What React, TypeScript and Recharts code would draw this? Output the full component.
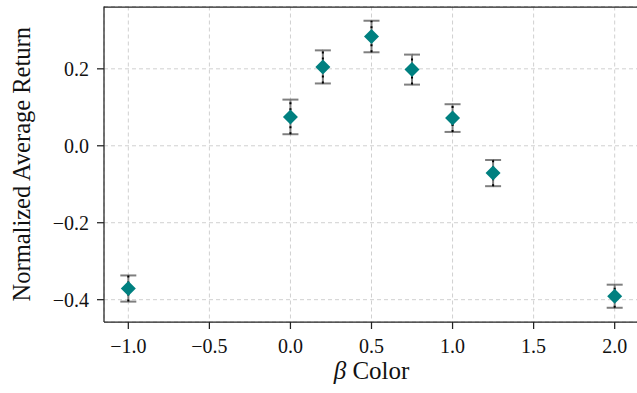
import React from "react";
import {
  ScatterChart,
  Scatter,
  XAxis,
  YAxis,
  CartesianGrid,
  ErrorBar,
  Label,
  ReferenceLine,
} from "recharts";

const betas = [-1.0, 0.0, 0.2, 0.5, 0.75, 1.0, 1.25, 2.0];
const means = [-0.371, 0.075, 0.205, 0.284, 0.198, 0.072, -0.071, -0.391];
const errors = [0.034, 0.045, 0.043, 0.041, 0.039, 0.036, 0.034, 0.03];

const xTicks = [-1.0, -0.5, 0.0, 0.5, 1.0, 1.5, 2.0];
const yTicks = [-0.4, -0.2, 0.0, 0.2];
const xDomain = [-1.15, 2.15];
const yDomain = [-0.458, 0.362];

const data = betas.map((b, i) => ({ beta: b, value: means[i], err: errors[i] }));

const fmt = (v: number) => v.toFixed(1).replace("-", "\u2212");

const TEAL = "#008080";
const CAP = "#7f7f7f";
const FONT = "'Liberation Serif', 'DejaVu Serif', serif";

function Diamond(props: any) {
  const { cx, cy } = props;
  const r = 7.5;
  return (
    <polygon
      points={`${cx},${cy - r} ${cx + r},${cy} ${cx},${cy + r} ${cx - r},${cy}`}
      fill={TEAL}
    />
  );
}

export default function App() {
  const tickStyle = { fill: "#111", fontSize: 20, fontFamily: FONT };
  return (
    <div
      style={{
        position: "absolute",
        top: 0,
        left: 0,
        width: 637,
        height: 393,
        overflow: "hidden",
        background: "#fff",
        fontFamily: FONT,
      }}
    >
      <style>{`
        .recharts-errorBar line[stroke="${CAP}"]:nth-child(2) { display: none; }
      `}</style>
      <ScatterChart
        width={645}
        height={393}
        margin={{ top: 6.5, right: 6, bottom: 0, left: 0 }}
      >
        <CartesianGrid stroke="#d0d0d0" strokeDasharray="4 3" />
        <XAxis
          type="number"
          dataKey="beta"
          domain={xDomain}
          ticks={xTicks}
          tickFormatter={fmt}
          height={71}
          tickSize={7}
          tickMargin={10}
          tick={tickStyle}
          stroke="#222"
          strokeWidth={1.25}
        >
          <Label
            content={({ viewBox }: any) => (
              <text
                x={viewBox.x + viewBox.width / 2}
                y={viewBox.y + 57}
                textAnchor="middle"
                fontSize={25}
                fill="#111"
                fontFamily={FONT}
              >
                <tspan fontStyle="italic">β</tspan> Color
              </text>
            )}
          />
        </XAxis>
        <YAxis
          type="number"
          dataKey="value"
          domain={yDomain}
          ticks={yTicks}
          tickFormatter={fmt}
          width={104}
          tickSize={7}
          tickMargin={8}
          tick={tickStyle}
          stroke="#222"
          strokeWidth={1.25}
        >
          <Label
            content={({ viewBox }: any) => {
              const x = 21;
              const y = viewBox.y + viewBox.height / 2;
              return (
                <text
                  x={x}
                  y={y}
                  transform={`rotate(-90, ${x}, ${y})`}
                  textAnchor="middle"
                  dominantBaseline="central"
                  fontSize={24.5}
                  fill="#111"
                  fontFamily={FONT}
                >
                  Normalized Average Return
                </text>
              );
            }}
          />
        </YAxis>
        {/* top spine of the frame, just inside the upper end of the value range */}
        <ReferenceLine
          y={yDomain[1] - 0.0016}
          stroke="#222"
          strokeWidth={1.25}
          ifOverflow="visible"
        />
        <Scatter data={data} shape={<Diamond />} isAnimationActive={false}>
          <ErrorBar
            dataKey="err"
            direction="y"
            width={8}
            stroke={CAP}
            strokeWidth={2}
          />
          <ErrorBar
            dataKey="err"
            direction="y"
            width={0}
            stroke="#000"
            strokeWidth={2}
            strokeDasharray="2 4"
          />
        </Scatter>
      </ScatterChart>
    </div>
  );
}
